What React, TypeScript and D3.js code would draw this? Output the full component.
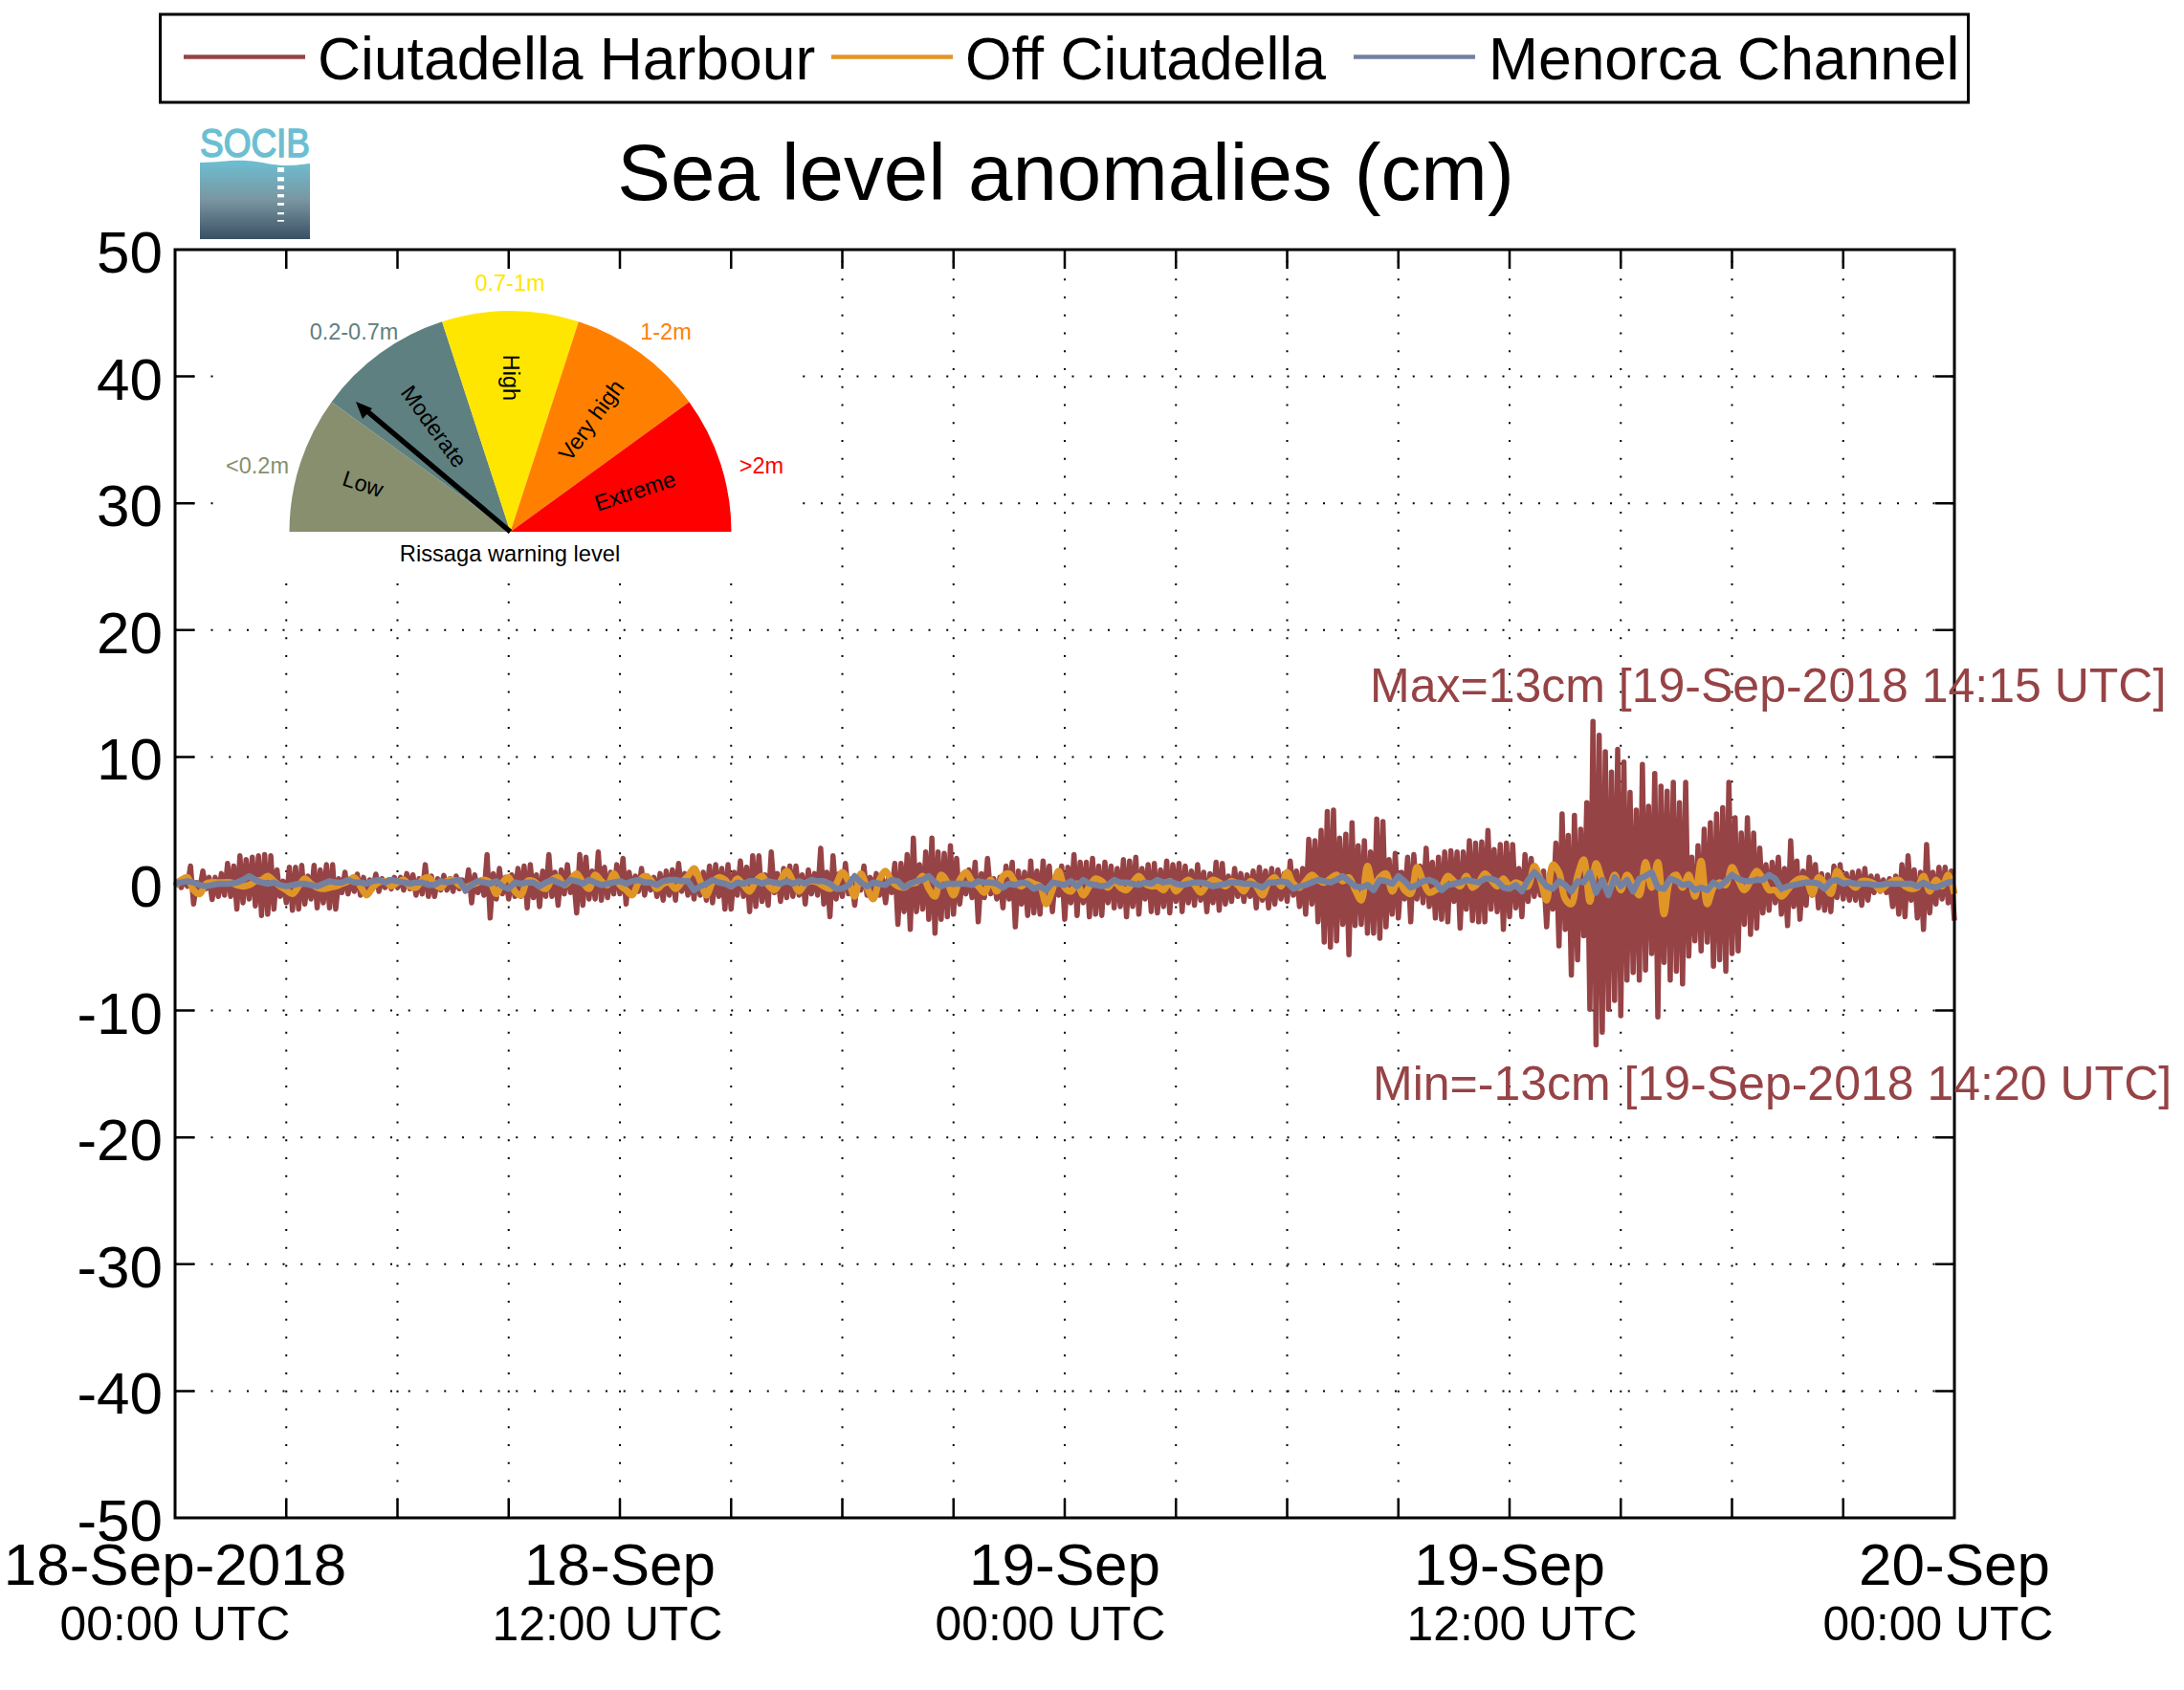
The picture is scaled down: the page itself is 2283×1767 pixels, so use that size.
import * as d3 from "d3";
import { useEffect, useRef } from "react";

const W = 2283;
const H = 1767;
const FONT = "'Liberation Sans', Arial, sans-serif";

// Ciutadella Harbour, 5 min samples: local peaks fall on odd samples, troughs on even ones (one line = 3 h)
const harbourPeaks = [
  0.2, 0.4, 1.4, 0.1, 1.0, 0.5, 0.5, 0.8, 1.6, 1.4, 2.2, 1.9, 2.1, 2.2, 2.3, 2.2, 1.1, 0.2,
  1.3, 1.3, 1.45, 0.6, 1.45, 1.1, 1.5, 1.5, 0.4, 0.9, 0.4, 0.75, 0.5, 0.3, 0.75, 0.4, 0.3, 0.5,
  0.5, 0.8, 0.7, 0.4, 1.5, 0.6, 0.4, 0.65, 0.4, 0.6, 0.3, 1.1, 0.7, 0.3, 2.3, 0.8, 1.2, 0.5,
  0.7, 1.2, 1.4, 1.5, 0.7, 1.0, 2.3, 0.9, 1.1, 1.5, 0.6, 2.3, 2.1, 1.0, 2.5, 1.3, 0.9, 1.5,
  2.0, 0.9, 0.6, 1.2, 0.6, 0.5, 0.8, 1.0, 1.1, 1.6, 0.8, 0.7, 0.9, 0.9, 1.4, 1.5, 1.2, 1.5,
  0.9, 1.8, 1.3, 2.2, 2.2, 0.7, 2.5, 0.8, 1.2, 1.4, 1.4, 0.7, 1.1, 0.8, 2.8, 0.9, 2.2, 0.8,
  1.6, 0.4, 0.4, 1.4, 0.5, 0.8, 0.4, 0.6, 1.6, 1.6, 2.3, 3.6, 1.5, 2.5, 3.6, 2.5, 2.4, 3.0,
  2.0, 0.6, 1.1, 1.7, 0.8, 2.0, 0.4, 0.5, 1.4, 1.7, 1.0, 0.9, 1.8, 1.0, 1.8, 1.4, 0.6, 1.4,
  1.3, 2.3, 1.7, 1.7, 2.0, 1.4, 1.7, 1.4, 1.2, 1.9, 1.8, 2.1, 1.2, 1.5, 1.6, 1.1, 1.8, 1.5,
  1.6, 1.4, 1.0, 1.5, 0.9, 0.8, 1.7, 1.6, 0.6, 1.2, 0.8, 0.7, 1.0, 1.3, 1.0, 1.2, 1.1, 0.8,
  1.8, 1.0, 1.2, 3.5, 3.4, 4.2, 5.7, 5.8, 3.6, 3.9, 4.8, 3.0, 3.4, 2.5, 5.1, 4.9, 1.9, 2.4,
  0.9, 2.1, 2.3, 1.4, 2.8, 1.7, 2.1, 2.5, 2.6, 2.5, 2.5, 3.4, 3.2, 3.3, 4.2, 2.7, 3.1, 3.2,
  3.1, 1.2, 2.3, 2.0, 1.0, 1.0, 0.8, 3.2, 5.5, 3.8, 5.4, 4.3, 6.4, 12.8, 11.7, 10.4, 8.8, 10.6,
  9.6, 7.2, 5.8, 9.4, 6.1, 8.7, 7.7, 7.3, 8.0, 6.4, 8.0, 2.1, 3.0, 4.3, 4.8, 5.5, 6.0, 8.0,
  5.2, 4.0, 5.2, 4.0, 2.8, 1.5, 1.7, 2.1, 1.2, 3.4, 1.8, 1.0, 2.1, 1.5, 0.8, 0.7, 1.4, 1.5,
  0.8, 0.9, 1.0, 1.2, 0.6, 0.6, 0.3, 0.4, 0.6, 1.5, 2.2, 1.1, 0.9, 3.1, 0.9, 1.3, 1.3, 1.0,
];
const harbourTroughs = [
  -0.1, -0.3, -0.2, -1.6, -0.4, -0.4, -1.25, -1.0, -0.9, -1.0, -2.0, -1.5, -1.2, -1.75, -2.5, -2.4, -2.0, -1.0,
  -1.5, -2.1, -2.0, -1.6, -1.2, -1.9, -1.5, -1.9, -2.0, -0.7, -0.8, -0.6, -0.9, -0.8, -0.4, -0.6, -0.3, -0.4,
  -0.3, -0.5, -0.4, -0.9, -0.8, -1.0, -1.0, -0.5, -0.5, -0.6, -0.4, -0.6, -1.5, -0.7, -0.9, -2.7, -1.2, -0.8,
  -1.2, -1.0, -1.0, -1.9, -1.1, -1.8, -1.0, -1.0, -1.7, -0.8, -0.7, -2.3, -1.7, -1.2, -1.2, -1.3, -1.1, -0.8,
  -0.8, -1.6, -0.7, -0.6, -0.9, -0.5, -1.0, -1.3, -0.9, -1.3, -0.6, -0.9, -1.2, -0.9, -1.3, -1.5, -1.0, -2.0,
  -2.0, -0.9, -1.0, -2.2, -1.8, -1.4, -1.7, -0.7, -1.4, -1.1, -1.0, -0.9, -1.6, -0.8, -0.9, -1.6, -2.6, -1.2,
  -1.0, -0.8, -1.7, -0.5, -0.9, -0.8, -0.9, -1.5, -0.7, -3.2, -2.2, -3.6, -2.2, -2.0, -2.8, -3.9, -2.8, -2.6,
  -2.4, -1.6, -0.8, -1.1, -3.0, -1.1, -0.8, -1.2, -1.9, -1.2, -3.4, -1.6, -2.5, -2.3, -2.4, -1.4, -2.2, -0.9,
  -2.8, -1.5, -2.5, -1.5, -2.6, -2.4, -2.5, -1.5, -1.9, -1.8, -2.6, -1.8, -2.4, -1.2, -2.2, -2.3, -1.8, -2.3,
  -1.4, -2.2, -1.5, -1.7, -1.3, -2.2, -1.5, -2.1, -1.6, -1.4, -1.0, -1.4, -1.0, -1.9, -1.3, -1.9, -1.6, -1.2,
  -1.4, -0.9, -1.8, -2.4, -1.6, -3.0, -4.6, -5.0, -4.5, -3.2, -5.6, -3.3, -3.2, -3.9, -3.9, -4.3, -3.4, -2.4,
  -2.7, -1.2, -3.0, -1.2, -1.5, -1.8, -2.7, -2.8, -3.0, -1.4, -3.5, -2.0, -2.9, -3.0, -3.0, -2.0, -2.2, -3.6,
  -2.6, -1.9, -2.6, -1.4, -1.0, -0.9, -3.4, -2.0, -4.9, -3.6, -7.2, -6.0, -4.1, -9.9, -12.7, -11.7, -9.9, -9.2,
  -10.4, -7.6, -7.0, -7.6, -6.8, -5.5, -10.5, -6.2, -7.6, -6.9, -7.9, -5.7, -4.5, -5.3, -4.6, -6.5, -6.0, -6.9,
  -5.5, -5.3, -3.2, -4.0, -3.5, -2.3, -2.1, -1.5, -2.4, -3.3, -1.8, -2.8, -1.7, -0.9, -1.9, -2.1, -2.2, -1.1,
  -1.2, -1.3, -1.3, -1.7, -1.3, -0.7, -0.6, -0.7, -1.8, -2.4, -2.6, -1.3, -2.7, -3.6, -2.3, -1.6, -1.2, -1.5, -2.9,
];
// Off Ciutadella, 10 min samples
const offCiutadella = [
  -0.2, 0.3, 0.5, -0.5, -0.8, 0, 0.1, 0.1, 0.1, 0.1, -0.1, -0.2, -0.1, 0.2, 0.3, 0.6, 0.2, -0.2,
  -0.5, -0.8, -0.2, 0.4, 0, -0.3, -0.4, -0.3, -0.2, 0, 0.2, 0.5, -0.2, -0.9, -0.3, 0.1, 0.2, -0.2,
  0.1, 0.3, -0.2, -0.3, 0.3, 0.5, 0, -0.3, 0.2, 0.3, -0.1, -0.3, -0.1, 0.1, 0.3, 0.1, -0.8, 0.1,
  0.5, -0.6, -0.9, 0.2, 0.2, -0.2, -0.4, 0.3, 0.5, -0.1, 0.3, 0.8, 0.1, -0.4, 0.7, 0.2, -0.1, 0.8,
  -0.1, -0.5, -0.9, 0.1, 0.6, 0.3, -0.4, 0, 0.1, -0.4, 0.1, 0.6, 1.2, 0.2, -0.9, 0.1, 0.5, 0.3,
  -0.2, 0.4, -0.1, -0.6, 0.2, 0.6, -0.1, -0.5, 0.2, 1.0, 0.2, -0.6, 0, 0.2, 0.1, -0.2, -0.4, 0,
  0.9, 0.2, -1.0, 0.8, -0.3, -1.2, 0.3, 1.0, 0.2, -0.2, -0.3, 0, 0.1, 0.6, -0.4, -1.0, 0.7, 0.1,
  -0.9, 0.3, 0.9, 0.2, -0.2, -0.7, 0.3, -0.6, 0.6, 0.8, 0.1, -0.2, 0.2, 0, -0.2, -1.6, -0.5, 1.0,
  -0.3, -0.6, 0, -0.9, -0.2, 0.4, 0.2, -0.3, 0.2, -0.3, -0.5, 0.1, 0.6, 0, -0.2, -0.2, -0.5, 0.2,
  -0.6, -0.1, 0.3, -0.1, -0.7, -0.1, 0.3, 0.1, -0.2, 0.2, -0.1, -0.6, 0.2, -0.2, -0.9, 0.1, 0.5, -0.2,
  0.9, 0, -0.3, 0.2, 0.7, 0.3, 0.1, 0.4, 0.7, 0.2, 0.5, -0.5, -1.3, 1.4, -0.2, 0.5, 0.8, -0.6,
  0.3, -0.5, -0.8, 1.3, 0.2, -0.7, -0.5, -0.2, 0.6, 0.2, -0.2, 0.6, -0.3, 0.1, 0.8, 0.3, -0.2, 0.4,
  -0.2, 0.1, -0.1, -0.2, 1.4, 0.3, -1.3, 1.5, 0.9, -1.2, -1.6, 0.6, 1.9, -1.4, 1.6, 0.3, -0.5, 0.7,
  -0.5, 0.7, -0.1, -0.9, 1.7, -0.3, 1.7, -2.4, 0.3, 0.7, -0.3, 0.7, -1.0, 1.8, -1.6, -0.3, 0.1, -0.1,
  1.3, 0.3, -0.5, 0.2, 1.0, 0.4, -0.5, -0.5, -1.0, -0.5, 0.1, 0.4, 0.3, -0.8, 0.5, 0, -0.8, 1.0,
  0.3, 0.1, -0.3, 0.2, 0.2, 0, -0.5, -0.1, 0.2, 0.3, -0.2, -0.4, -0.3, 0.6, -0.6, 0.3, -0.2, 0.7, -0.8,
];
// Menorca Channel, 10 min samples
const menorcaChannel = [
  0, 0.1, 0.2, 0.1, -0.1, -0.2, -0.1, 0, 0, 0, 0.1, 0.3, 0.6, 0.3, 0.1, 0, 0.1, -0.1,
  -0.2, -0.1, 0, 0, -0.1, -0.2, 0, 0.2, 0.1, 0.1, 0.3, 0.1, 0.1, 0, 0.2, 0.3, 0.1, 0.3,
  0.2, 0.1, 0, 0.1, 0.1, -0.1, -0.1, 0.2, 0.1, 0.2, 0.3, -0.5, -0.1, 0.2, 0.1, 0, 0.2, -0.2,
  -0.4, 0.1, 0, 0.1, 0.1, -0.2, 0.1, 0.3, 0.1, -0.1, 0.3, 0.2, 0, 0.3, 0.1, -0.1, 0, 0.1,
  0.2, 0, 0.2, 0.3, 0.1, 0.1, -0.1, 0.2, 0.3, 0.3, 0.2, 0.2, -0.5, -0.2, 0, 0.3, 0.1, 0,
  -0.2, 0.1, 0, 0.2, 0.2, 0, 0.2, 0.1, 0, 0.2, 0, 0.2, 0, 0.3, 0.2, 0.2, 0, -0.4,
  -0.4, -0.1, 0.6, 0.1, -0.2, 0.1, 0, -0.1, 0.3, 0.2, -0.3, 0, 0.2, 0.3, 0.6, 0.1, -0.2, 0,
  0, 0, 0, -0.1, 0.2, 0.1, 0.1, 0, -0.3, 0, -0.1, 0.1, 0, -0.4, -0.2, -0.5, 0.1, 0,
  -0.1, 0.2, -0.2, 0.3, 0, -0.1, -0.2, -0.1, 0.3, 0.1, 0.1, 0, -0.1, 0.1, 0, 0.3, 0.1, 0.2,
  0, -0.1, 0, 0.1, 0.1, 0, -0.2, -0.1, 0, 0.1, 0.1, 0, 0, -0.1, -0.3, 0.1, 0.1, 0.2,
  0.1, -0.4, -0.2, -0.1, 0.1, 0.3, 0.2, 0.1, 0.3, 0.6, 0.2, -0.2, -0.3, -0.1, -0.5, 0.3, 0.2, 0,
  0.6, 0.2, -0.3, -0.1, 0.2, 0.3, 0.1, -0.5, -0.1, 0, 0.1, 0.3, 0.2, 0.1, 0.4, 0.4, 0.2, -0.3,
  -0.4, -0.1, -0.6, 0.3, 0.9, 0.4, -0.2, -0.4, 0.2, -0.1, -0.6, 0.2, 0.1, 0.9, -0.7, 0.3, -0.9, 0.5,
  -0.2, 0.3, -0.6, 0.4, 0.6, 0.9, -0.3, -0.4, 0.4, 0.2, -0.1, 0, -0.5, -0.3, -0.5, 0.1, -0.2, 0.2,
  0.7, 0.4, 0.2, 0.2, 0.3, 0.3, 0.7, 0.4, -0.4, -0.2, -0.1, 0, 0.1, 0.1, 0, -0.4, 0.2, 0.3,
  0, 0.1, 0, 0, 0, -0.1, -0.1, 0, 0, 0, 0, 0, -0.2, 0.1, -0.2, -0.3, -0.1, 0.1, 0.2,
];

const yTicks = [50, 40, 30, 20, 10, 0, -10, -20, -30, -40, -50];
const xTickHours = d3.range(0, 49, 3);
const dateLabels = ["18-Sep-2018", "18-Sep", "19-Sep", "19-Sep", "20-Sep"];
const timeLabels = ["00:00 UTC", "12:00 UTC", "00:00 UTC", "12:00 UTC", "00:00 UTC"];
const labelHours = [0, 12, 24, 36, 48];
const timeLabelShift = [0, -13, -15, 13, -17];

const seriesNames = ["Ciutadella Harbour", "Off Ciutadella", "Menorca Channel"];
const seriesColors = ["#964346", "#E09627", "#7480A0"];

const levelNames = ["Low", "Moderate", "High", "Very high", "Extreme"];
const levelRanges = ["<0.2m", "0.2-0.7m", "0.7-1m", "1-2m", ">2m"];
const levelColors = ["#878F6E", "#5F8080", "#FFE600", "#FF8000", "#FF0000"];

export default function App() {
  const ref = useRef<SVGSVGElement>(null);

  useEffect(() => {
    if (!ref.current) return;
    const svg = d3.select(ref.current);
    svg.selectAll("*").remove();
    svg.attr("font-family", FONT);

    const left = 183, right = 2043, top = 261, bottom = 1587;
    const t0 = Date.UTC(2018, 8, 18);
    const hour = (h: number) => new Date(t0 + h * 3600000);
    const x = d3.scaleUtc().domain([hour(0), hour(48)]).range([left, right]);
    const y = d3.scaleLinear().domain([-50, 50]).range([bottom, top]);

    // dotted grid
    const grid = svg.append("g").attr("stroke", "#000").attr("stroke-width", 2).attr("stroke-dasharray", "2 16.75");
    grid.selectAll(".gx").data(xTickHours.slice(1, -1)).join("line")
      .attr("x1", d => x(hour(d))).attr("x2", d => x(hour(d))).attr("y1", bottom).attr("y2", top);
    grid.selectAll(".gy").data(yTicks.slice(1, -1)).join("line")
      .attr("x1", left).attr("x2", right).attr("y1", d => y(d)).attr("y2", d => y(d));

    // the gauge sits on a white patch over the grid
    svg.append("rect").attr("x", 228).attr("y", 272).attr("width", 607).attr("height", 332).attr("fill", "#fff");

    // ticks
    const axes = svg.append("g").attr("stroke", "#000").attr("fill", "none");
    const xPos = xTickHours.slice(1, -1).map(d => x(hour(d)));
    const yPos = yTicks.slice(1, -1).map(d => y(d));
    axes.selectAll(".tb").data(xPos).join("path").attr("stroke-width", 2.5).attr("d", d => `M${d},${bottom}v-20M${d},${top}v20`);
    axes.selectAll(".tl").data(yPos).join("path").attr("stroke-width", 2.5).attr("d", d => `M${left},${d}h20M${right},${d}h-20`);

    // series
    const harbour = d3.range(577).map(i => (i % 2 ? harbourPeaks[(i - 1) / 2] : harbourTroughs[i / 2]));
    const drawSeries = (vals: number[], stepHours: number, color: string, width: number, curve: d3.CurveFactory) => {
      const line = d3.line<number>().x((_, i) => x(hour(i * stepHours))).y(d => y(d)).curve(curve);
      svg.append("path").attr("d", line(vals)).attr("fill", "none").attr("stroke", color)
        .attr("stroke-width", width).attr("stroke-linejoin", "round");
    };
    drawSeries(harbour, 5 / 60, seriesColors[0], 5.5, d3.curveLinear);
    drawSeries(offCiutadella, 1 / 6, seriesColors[1], 7, d3.curveCatmullRom);
    drawSeries(menorcaChannel, 1 / 6, seriesColors[2], 6.5, d3.curveLinear);

    // frame
    svg.append("rect").attr("x", left).attr("y", top).attr("width", right - left).attr("height", bottom - top)
      .attr("fill", "none").attr("stroke", "#000").attr("stroke-width", 3);

    // rissaga gauge
    const cx = 533.5, cy = 556, R = 231;
    const arc = d3.arc<number>().innerRadius(0).outerRadius(R)
      .startAngle(i => ((-90 + i * 36) * Math.PI) / 180)
      .endAngle(i => ((-90 + (i + 1) * 36) * Math.PI) / 180);
    const gauge = svg.append("g").attr("transform", `translate(${cx},${cy})`);
    gauge.selectAll("path").data(d3.range(5)).join("path").attr("d", d => arc(d)).attr("fill", (_, i) => levelColors[i]);

    const innerR = [162, 136, 161, 144, 137];
    gauge.selectAll(".lvl").data(levelNames).join("text")
      .attr("font-size", 23.5).attr("text-anchor", "middle").attr("dy", 8)
      .attr("transform", (_, i) => {
        const a = -90 + (i + 0.5) * 36;
        const rad = (a * Math.PI) / 180;
        const rot = a < 0 ? a + 90 : a - 90;
        return `translate(${innerR[i] * Math.sin(rad)},${-innerR[i] * Math.cos(rad)}) rotate(${i === 2 ? 90 : rot})`;
      })
      .text(d => d);

    const rangeX = [269, 370, 533, 696, 796];
    const rangeY = [495, 355, 304, 355, 495];
    svg.selectAll(".rng").data(levelRanges).join("text")
      .attr("x", (_, i) => rangeX[i]).attr("y", (_, i) => rangeY[i])
      .attr("font-size", 23.5).attr("text-anchor", "middle").attr("fill", (_, i) => levelColors[i]).text(d => d);

    svg.append("text").attr("x", 533).attr("y", 587).attr("font-size", 23.7).attr("text-anchor", "middle").text("Rissaga warning level");

    // needle
    svg.append("line").attr("x1", cx).attr("y1", cy).attr("x2", 378).attr("y2", 425).attr("stroke", "#000").attr("stroke-width", 5.5);
    svg.append("path").attr("d", "M372,420 L389,427 L379,438 Z").attr("fill", "#000");

    // tick labels
    svg.selectAll(".yl").data(yTicks).join("text")
      .attr("x", 170).attr("y", d => y(d) + 24).attr("text-anchor", "end").attr("font-size", 62).text(d => d);
    svg.selectAll(".xd").data(dateLabels).join("text")
      .attr("x", (_, i) => x(hour(labelHours[i]))).attr("y", 1657).attr("text-anchor", "middle").attr("font-size", 62).text(d => d);
    svg.selectAll(".xt").data(timeLabels).join("text")
      .attr("x", (_, i) => x(hour(labelHours[i])) + timeLabelShift[i]).attr("y", 1715).attr("text-anchor", "middle").attr("font-size", 49.8).text(d => d);

    // title
    svg.append("text").attr("x", 1114).attr("y", 209).attr("text-anchor", "middle").attr("font-size", 83.5).text("Sea level anomalies (cm)");

    // extremes
    svg.append("text").attr("x", 1432).attr("y", 734).attr("font-size", 50).attr("fill", seriesColors[0]).text("Max=13cm [19-Sep-2018 14:15 UTC]");
    svg.append("text").attr("x", 1435).attr("y", 1150).attr("font-size", 50).attr("fill", seriesColors[0]).text("Min=-13cm [19-Sep-2018 14:20 UTC]");

    // legend
    svg.append("rect").attr("x", 167.5).attr("y", 15).attr("width", 1890).attr("height", 92).attr("fill", "#fff").attr("stroke", "#000").attr("stroke-width", 3);
    const legendLineX = [192, 869, 1415];
    const legendTextX = [332, 1009, 1556];
    seriesNames.forEach((name, i) => {
      svg.append("line").attr("x1", legendLineX[i]).attr("x2", legendLineX[i] + 127).attr("y1", 59.5).attr("y2", 59.5)
        .attr("stroke", seriesColors[i]).attr("stroke-width", 4.5);
      svg.append("text").attr("x", legendTextX[i]).attr("y", 83).attr("font-size", 62.4).text(name);
    });

    // SOCIB logo
    const defs = svg.append("defs");
    const grad = defs.append("linearGradient").attr("id", "sea").attr("x1", 0).attr("x2", 0).attr("y1", 0).attr("y2", 1);
    grad.append("stop").attr("offset", "0%").attr("stop-color", "#6CBFD2");
    grad.append("stop").attr("offset", "50%").attr("stop-color", "#7A96A2");
    grad.append("stop").attr("offset", "100%").attr("stop-color", "#3A5064");
    svg.append("path").attr("d", "M209,170 C230,170 240,167 258,168 C275,169 285,173 297,173 C308,173 315,172 324,171 V250 H209 Z").attr("fill", "url(#sea)");
    svg.append("g").attr("fill", "#fff").selectAll("rect").data([175, 185, 194, 203, 212, 222, 230]).join("rect")
      .attr("x", 290).attr("y", d => d).attr("width", 7).attr("height", (_, i) => 5 - i * 0.55);
    svg.append("text").attr("x", 209).attr("y", 164).attr("font-size", 42).attr("fill", "#6CBFD2").attr("stroke", "#6CBFD2").attr("stroke-width", 1.5)
      .attr("textLength", 115).attr("lengthAdjust", "spacingAndGlyphs").text("SOCIB");
  }, []);

  return <svg ref={ref} width={W} height={H} style={{ position: "absolute", left: 0, top: 0, display: "block", background: "#fff" }} />;
}
